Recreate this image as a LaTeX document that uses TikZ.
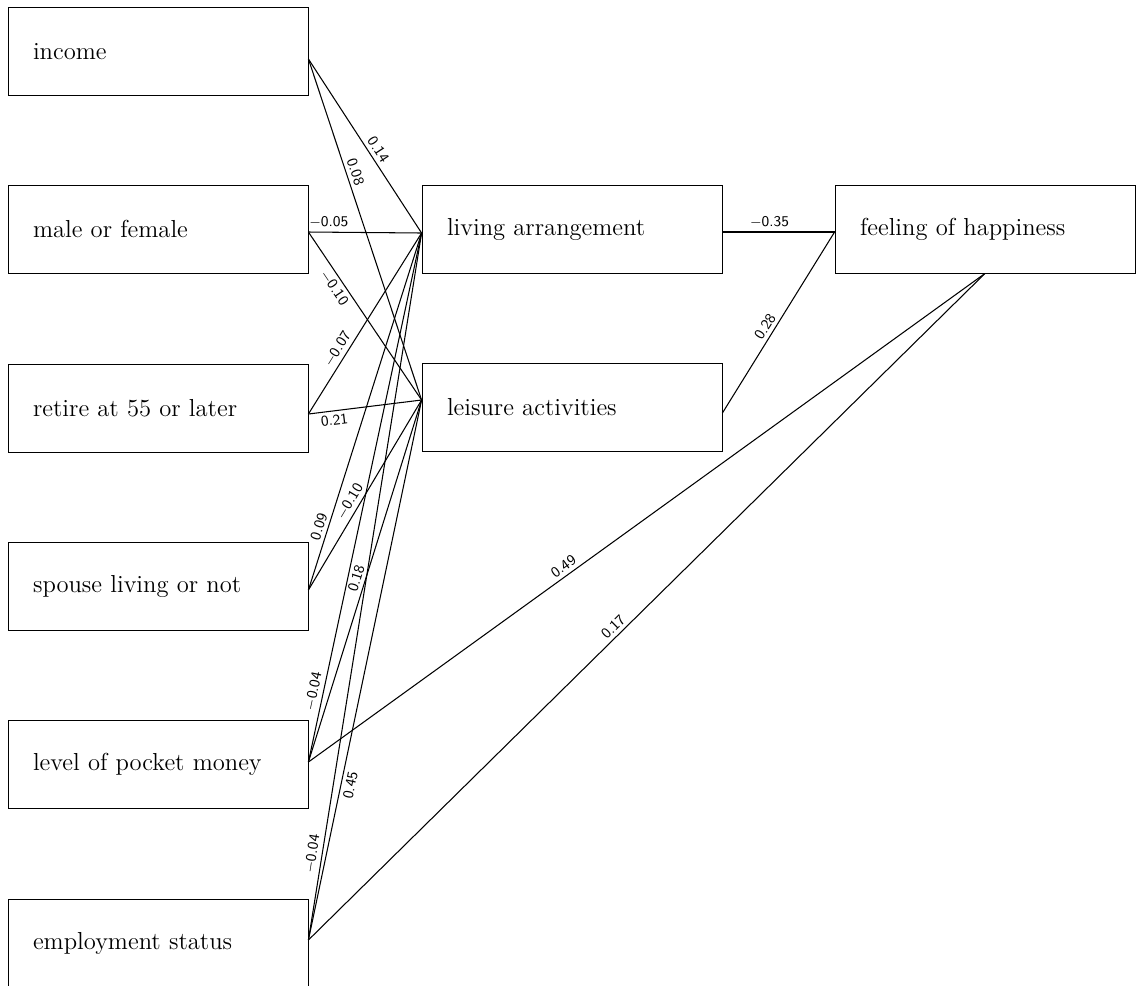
\documentclass[tikz,border=0pt]{standalone}
\usepackage{tikz}
\usetikzlibrary{positioning, calc}

\begin{document}
\begin{tikzpicture}[
  x=0.02cm, y=-0.02cm,
  var/.style={
    draw, line width=0.5pt,
    minimum height=1.76cm, text width=5cm, inner xsep=0.5cm,
    align=left, font=\fontsize{14}{16}\selectfont
  },
  link/.style={
    line width=0.6pt
  },
  coef/.style={
    font=\sffamily\fontsize{8.5}{10}\selectfont, sloped, inner sep=2pt
  }
]
\useasboundingbox (0,0) rectangle (1139,985);

% Background variables
\node[var] (inc) at (158, 51.5) {income};
\node[var] (mal) at (158, 229) {male or female};
\node[var] (ret) at (158, 408) {retire at 55 or later};
\node[var] (spo) at (158, 586.5) {spouse living or not};
\node[var] (pmo) at (158, 764) {level of pocket money};
\node[var] (emp) at (158, 943) {employment status};

% Intervening variables
\node[var] (liv) at (572, 229) {living arrangement};
\node[var] (lei) at (572, 407.5) {leisure activities};

% Outcome
\node[var] (hap) at (985, 229) {feeling of happiness};

% Line ends
\coordinate (inc-o) at ($(inc.east)+(0,7.5)$);
\coordinate (mal-o) at ($(mal.east)+(0,3)$);
\coordinate (ret-o) at ($(ret.east)+(0,6)$);
\coordinate (spo-o) at ($(spo.east)+(0,3.5)$);
\coordinate (pmo-o) at ($(pmo.east)+(0,-2)$);
\coordinate (emp-o) at ($(emp.east)+(0,-3)$);
\coordinate (liv-i) at ($(liv.west)+(0,4)$);
\coordinate (lei-i) at ($(lei.west)+(0,-7.5)$);
\coordinate (liv-o) at ($(liv.east)+(0,3)$);
\coordinate (lei-o) at ($(lei.east)+(0,5.5)$);
\coordinate (hap-i) at ($(hap.west)+(0,3)$);

% Paths to living arrangement / leisure activities
\draw[link] (inc-o) -- node[coef, above, pos=0.55] {0.14} (liv-i);
\draw[link] (inc-o) -- node[coef, above, pos=0.34] {0.08} (lei-i);
\draw[link] (mal-o) -- node[coef, above, pos=0.18] {$-$0.05} (liv-i);
\draw[link] (mal-o) -- node[coef, below, pos=0.3] {$-$0.10} (lei-i);
\draw[link] (ret-o) -- node[coef, above, pos=0.33] {$-$0.07} (liv-i);
\draw[link] (ret-o) -- node[coef, below, pos=0.22] {0.21} (lei-i);
\draw[link] (spo-o) -- node[coef, above, pos=0.17] {0.09} (liv-i);
\draw[link] (spo-o) -- node[coef, above, pos=0.44] {$-$0.10} (lei-i);
\draw[link] (pmo-o) -- node[coef, above, pos=0.13] {$-$0.04} (liv-i);
\draw[link] (pmo-o) -- node[coef, above, pos=0.5] {0.18} (lei-i);
\draw[link] (emp-o) -- node[coef, above, pos=0.12] {$-$0.04} (liv-i);
\draw[link] (emp-o) -- node[coef, below, pos=0.29] {0.45} (lei-i);

% Paths to feeling of happiness
\draw[link] (liv-o) -- node[coef, above, pos=0.42] {$-$0.35} (hap-i);
\draw[link] (lei-o) -- node[coef, above, pos=0.45] {0.28} (hap-i);
\draw[link] (pmo-o) -- node[coef, above, pos=0.385] {0.49} (hap.south);
\draw[link] (emp-o) -- node[coef, above, pos=0.46] {0.17} (hap.south);

\end{tikzpicture}
\end{document}
